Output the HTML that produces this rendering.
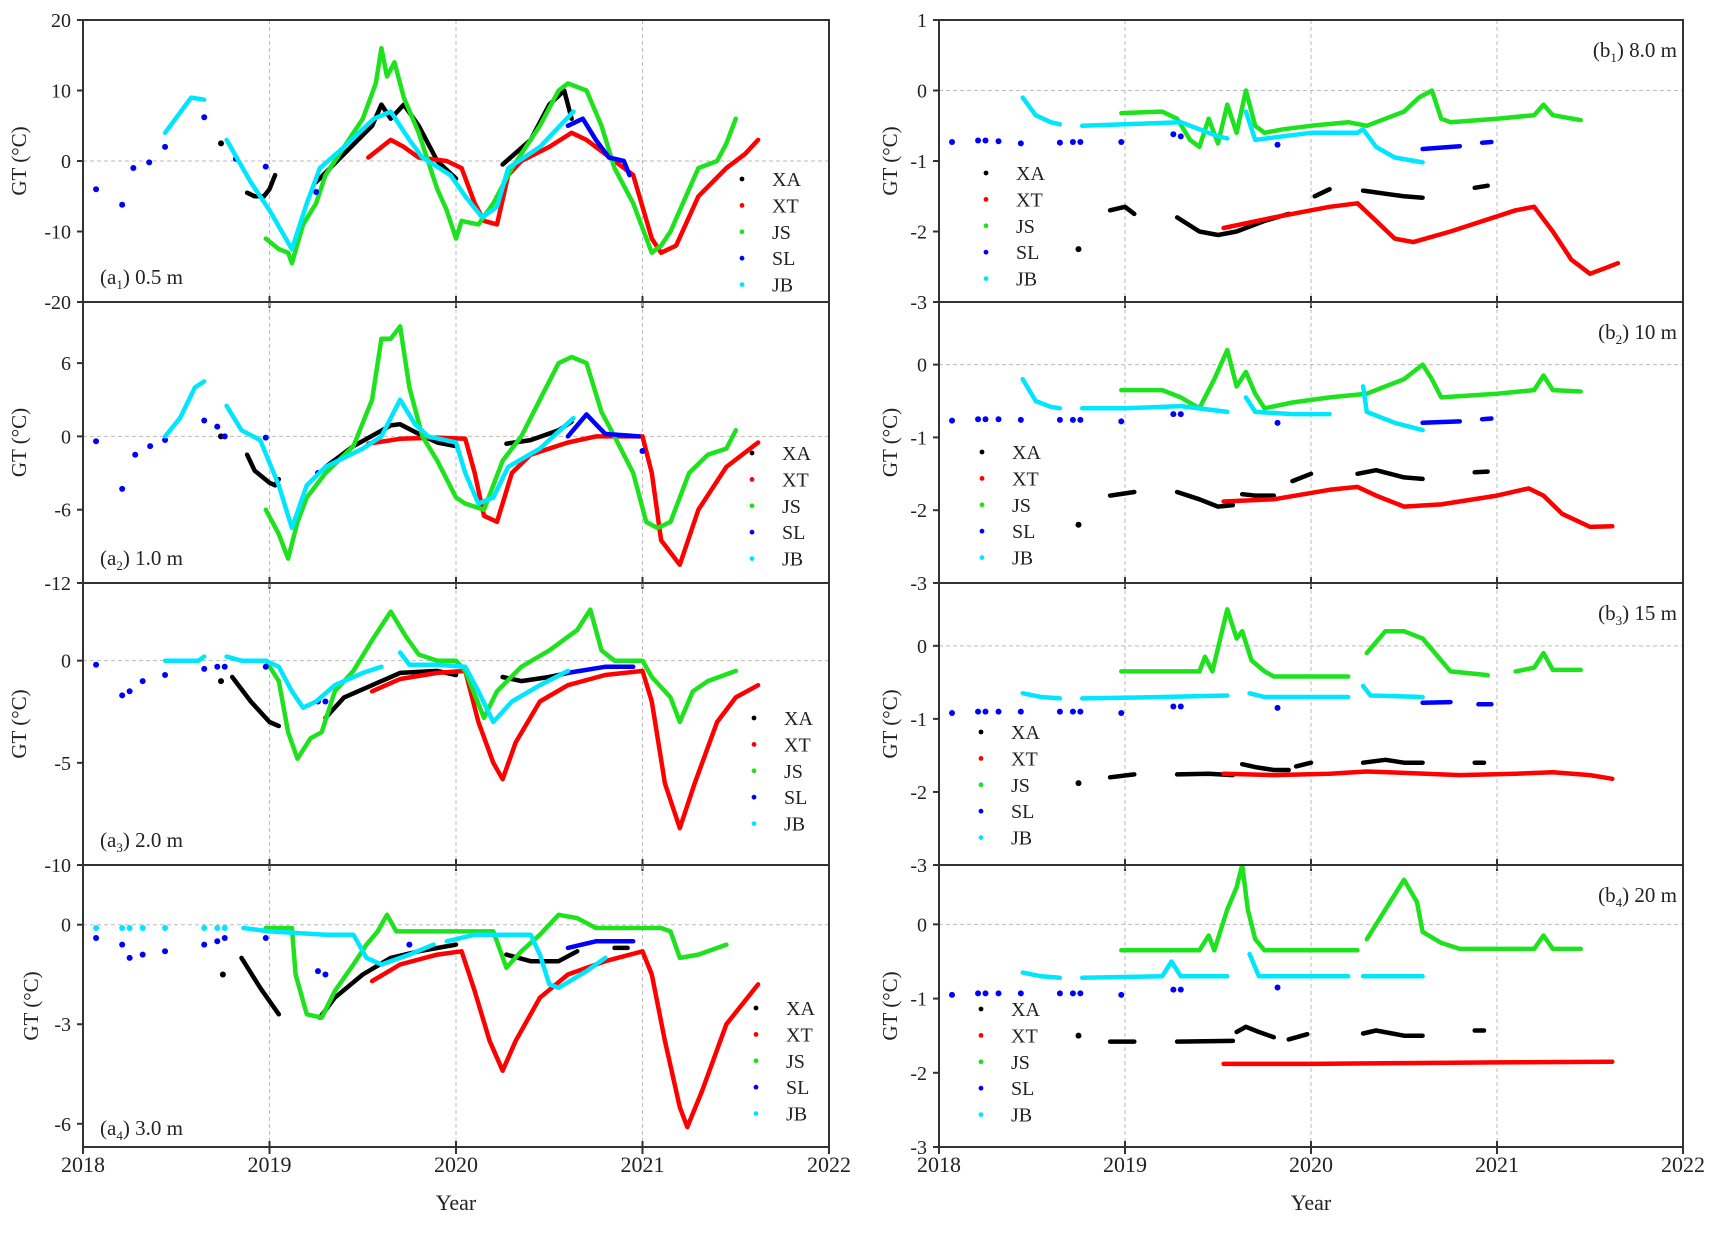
<!DOCTYPE html>
<html><head><meta charset="utf-8"><title>Ground temperature time series</title>
<style>
html,body{margin:0;padding:0;background:#fff;}
svg{display:block;font-family:"Liberation Serif",serif;}
</style></head>
<body>
<svg id="chart" xmlns="http://www.w3.org/2000/svg" width="1729" height="1240" viewBox="0 0 1729 1240">
<rect x="0" y="0" width="1729" height="1240" fill="#fff"/>
<g id="layer"></g>
</svg>
<script>
// x values are years since 2018-01-01; y values are GT (°C). Each series = list of segments; 1-point segment = isolated dot.
const yearTicks = [2018, 2019, 2020, 2021, 2022];
const seriesNames = ["XA", "XT", "JS", "SL", "JB"];

// ---- a1 0.5 m
const a1_XA = [[[0.74,2.5]],[[0.88,-4.5],[0.92,-5],[0.97,-5],[1.0,-4],[1.03,-2]],[[1.25,-3],[1.4,1],[1.55,5],[1.6,8],[1.65,6],[1.72,8],[1.8,5],[1.9,0],[2.0,-2.5]],[[2.25,-0.5],[2.4,3],[2.5,8],[2.58,10],[2.62,6]]];
const a1_XT = [[[1.53,0.5],[1.65,3],[1.72,2],[1.8,0.5],[1.95,0],[2.03,-1],[2.1,-6],[2.15,-8.5],[2.22,-9],[2.28,-2],[2.35,0],[2.5,2],[2.62,4],[2.7,3],[2.8,1],[2.85,0],[2.95,-2],[3.05,-11],[3.1,-13],[3.18,-12],[3.3,-5],[3.45,-1],[3.55,1],[3.62,3]]];
const a1_JS = [[[0.98,-11],[1.05,-12.5],[1.1,-13],[1.12,-14.5],[1.18,-9],[1.25,-6],[1.3,-2],[1.4,2],[1.5,6],[1.57,11],[1.6,16],[1.63,12],[1.67,14],[1.72,9],[1.8,4],[1.9,-4],[1.95,-7],[2.0,-11],[2.03,-8.5],[2.12,-9],[2.2,-6],[2.3,-1],[2.45,5],[2.55,10],[2.6,11],[2.7,10],[2.78,5],[2.85,-1],[2.95,-6],[3.05,-13],[3.1,-12],[3.15,-10],[3.25,-4],[3.3,-1],[3.4,0],[3.45,2.5],[3.5,6]]];
const a1_SL = [[[0.07,-4]],[[0.21,-6.2]],[[0.27,-1]],[[0.355,-0.2]],[[0.44,2]],[[0.65,6.2]],[[0.82,0.3]],[[0.98,-0.8]],[[1.25,-4.4]],[[2.6,5],[2.68,6],[2.75,3],[2.82,0.5],[2.9,0],[2.93,-2]]];
const a1_JB = [[[0.44,4],[0.58,9],[0.65,8.7]],[[0.77,3],[0.9,-3],[1.0,-7],[1.12,-12.5],[1.2,-6],[1.27,-1],[1.4,2],[1.56,6],[1.65,7],[1.75,3],[1.82,0.5],[1.97,-2],[2.05,-5],[2.14,-8],[2.22,-6.5],[2.28,-1],[2.45,2],[2.63,7]]];

// ---- a2 1.0 m
const a2_XA = [[[0.74,0]],[[0.88,-1.5],[0.92,-2.8],[1.0,-3.8],[1.03,-4],[1.05,-3.5]],[[1.3,-2.5],[1.45,-0.8],[1.58,0.3],[1.65,0.9],[1.7,1],[1.8,0.2],[1.9,-0.5],[2.0,-0.8]],[[2.27,-0.6],[2.4,-0.3],[2.55,0.5],[2.62,1.2]]];
const a2_XT = [[[1.53,-0.6],[1.7,-0.2],[1.9,-0.1],[2.05,-0.2],[2.1,-3],[2.15,-6.5],[2.22,-7],[2.3,-3],[2.4,-1.5],[2.6,-0.5],[2.75,0],[3.0,0],[3.05,-3],[3.1,-8.5],[3.2,-10.5],[3.3,-6],[3.45,-2.5],[3.62,-0.5]]];
const a2_JS = [[[0.98,-6],[1.05,-8],[1.1,-10],[1.15,-7],[1.2,-5],[1.3,-3],[1.45,-0.8],[1.55,3],[1.6,8],[1.65,8],[1.7,9],[1.75,4],[1.82,0],[1.9,-2],[2.0,-5],[2.05,-5.5],[2.15,-6],[2.25,-2],[2.35,0],[2.45,3],[2.55,6],[2.62,6.5],[2.7,6],[2.78,2],[2.85,0],[2.95,-3],[3.02,-7],[3.08,-7.5],[3.15,-7],[3.25,-3],[3.35,-1.5],[3.45,-1],[3.5,0.5]]];
const a2_SL = [[[0.07,-0.4]],[[0.21,-4.3]],[[0.28,-1.5]],[[0.36,-0.8]],[[0.44,-0.3]],[[0.65,1.3]],[[0.72,0.8]],[[0.76,0]],[[0.98,-0.1]],[[1.26,-3]],[[2.6,0],[2.7,1.8],[2.8,0.2],[2.98,0]],[[3.0,-1.2]]];
const a2_JB = [[[0.44,0],[0.52,1.5],[0.6,4],[0.65,4.5]],[[0.77,2.5],[0.85,0.5],[0.95,-0.3],[1.05,-4],[1.12,-7.5],[1.2,-4],[1.3,-2.5],[1.5,-1],[1.6,0],[1.7,3],[1.78,1],[1.85,0],[2.0,-0.5],[2.05,-3],[2.12,-5.5],[2.2,-5],[2.28,-2.5],[2.45,-1],[2.63,1.5]]];

// ---- a3 2.0 m
const a3_XA = [[[0.74,-1]],[[0.8,-0.8],[0.9,-2],[1.0,-3],[1.05,-3.2]],[[1.3,-2.8],[1.4,-1.8],[1.55,-1.2],[1.7,-0.6],[1.9,-0.5],[2.0,-0.7]],[[2.25,-0.8],[2.35,-1],[2.5,-0.8],[2.6,-0.6]]];
const a3_XT = [[[1.55,-1.5],[1.7,-0.9],[1.9,-0.6],[2.05,-0.5],[2.12,-3],[2.2,-5],[2.25,-5.8],[2.32,-4],[2.45,-2],[2.6,-1.2],[2.8,-0.7],[3.0,-0.5],[3.05,-2],[3.12,-6],[3.2,-8.2],[3.28,-6],[3.4,-3],[3.5,-1.8],[3.62,-1.2]]];
const a3_JS = [[[0.98,0],[1.05,-1],[1.1,-3.5],[1.15,-4.8],[1.22,-3.8],[1.28,-3.5],[1.35,-1.5],[1.45,-0.5],[1.55,1],[1.65,2.4],[1.73,1.2],[1.8,0.3],[1.9,0],[2.0,0],[2.05,-0.5],[2.15,-2.8],[2.22,-1.5],[2.35,-0.3],[2.5,0.5],[2.65,1.5],[2.72,2.5],[2.78,0.5],[2.85,0],[3.0,0],[3.05,-0.8],[3.15,-1.8],[3.2,-3],[3.27,-1.5],[3.35,-1],[3.5,-0.5]]];
const a3_SL = [[[0.07,-0.2]],[[0.21,-1.7]],[[0.25,-1.5]],[[0.32,-1.0]],[[0.44,-0.7]],[[0.65,-0.4]],[[0.72,-0.3]],[[0.76,-0.3]],[[0.98,-0.3]],[[1.26,-2]],[[1.3,-2]],[[2.6,-0.6],[2.8,-0.3],[2.95,-0.3]]];
const a3_JB = [[[0.44,0],[0.55,0],[0.62,0],[0.65,0.2]],[[0.77,0.2],[0.85,0],[0.98,0],[1.05,-0.3],[1.12,-1.5],[1.18,-2.3],[1.25,-2],[1.35,-1.2],[1.5,-0.6],[1.6,-0.3]],[[1.7,0.4],[1.75,-0.2],[1.9,-0.2],[2.05,-0.3],[2.12,-1.5],[2.2,-3],[2.3,-2],[2.45,-1.2],[2.6,-0.5]]];

// ---- a4 3.0 m
const a4_XA = [[[0.75,-1.5]],[[0.85,-1],[0.95,-1.9],[1.05,-2.7]],[[1.27,-2.8],[1.35,-2.2],[1.5,-1.5],[1.65,-1.0],[1.8,-0.8],[2.0,-0.6]],[[2.27,-0.9],[2.4,-1.1],[2.55,-1.1],[2.65,-0.8]],[[2.85,-0.7],[2.92,-0.7]]];
const a4_XT = [[[1.55,-1.7],[1.7,-1.2],[1.9,-0.9],[2.03,-0.8],[2.1,-2],[2.18,-3.5],[2.25,-4.4],[2.32,-3.5],[2.45,-2.2],[2.6,-1.5],[2.8,-1.1],[3.0,-0.8],[3.05,-1.5],[3.12,-3.5],[3.2,-5.5],[3.24,-6.1],[3.32,-5],[3.45,-3],[3.62,-1.8]]];
const a4_JS = [[[0.98,-0.1],[1.12,-0.1],[1.14,-1.5],[1.2,-2.7],[1.28,-2.8],[1.35,-2],[1.45,-1.2],[1.52,-0.6],[1.58,-0.2],[1.63,0.3],[1.68,-0.2],[1.75,-0.2],[1.9,-0.2],[2.2,-0.2],[2.27,-1.3],[2.35,-0.8],[2.45,-0.3],[2.55,0.3],[2.65,0.2],[2.75,-0.1],[3.1,-0.1],[3.15,-0.2],[3.2,-1],[3.3,-0.9],[3.45,-0.6]]];
const a4_SL = [[[0.07,-0.4]],[[0.21,-0.6]],[[0.25,-1.0]],[[0.32,-0.9]],[[0.44,-0.8]],[[0.65,-0.6]],[[0.72,-0.5]],[[0.76,-0.4]],[[0.98,-0.4]],[[1.26,-1.4]],[[1.3,-1.5]],[[1.75,-0.6]],[[2.6,-0.7],[2.75,-0.5],[2.95,-0.5]]];
const a4_JB = [[[0.07,-0.1]],[[0.21,-0.1]],[[0.25,-0.1]],[[0.32,-0.1]],[[0.44,-0.1]],[[0.65,-0.1]],[[0.72,-0.1]],[[0.76,-0.1]],[[0.86,-0.1],[1.0,-0.2],[1.3,-0.3],[1.45,-0.3],[1.52,-1],[1.6,-1.2],[1.75,-0.9],[1.88,-0.6]],[[1.95,-0.5],[2.1,-0.3],[2.4,-0.3],[2.45,-0.9],[2.5,-1.8],[2.55,-1.9],[2.7,-1.4],[2.8,-1.0]]];

// ---- b1 8.0 m
const b1_XA = [[[0.75,-2.25]],[[0.92,-1.7],[1.0,-1.65],[1.05,-1.75]],[[1.28,-1.8],[1.4,-2.0],[1.5,-2.05],[1.6,-2.0],[1.75,-1.85],[1.88,-1.75]],[[2.02,-1.5],[2.1,-1.4]],[[2.28,-1.42],[2.5,-1.5],[2.6,-1.52]],[[2.88,-1.38],[2.95,-1.35]]];
const b1_XT = [[[1.53,-1.95],[1.8,-1.8],[2.1,-1.65],[2.25,-1.6],[2.35,-1.85],[2.45,-2.1],[2.55,-2.15],[2.75,-2.0],[3.1,-1.7],[3.2,-1.65],[3.3,-2.0],[3.4,-2.4],[3.5,-2.6],[3.6,-2.5],[3.65,-2.45]]];
const b1_JS = [[[0.98,-0.32],[1.2,-0.3],[1.28,-0.4],[1.35,-0.7],[1.4,-0.8],[1.45,-0.4],[1.5,-0.75],[1.55,-0.2],[1.6,-0.6],[1.65,0],[1.7,-0.5],[1.75,-0.6],[1.85,-0.55],[2.0,-0.5],[2.2,-0.45],[2.3,-0.5],[2.4,-0.4],[2.5,-0.3],[2.58,-0.1],[2.65,0],[2.7,-0.4],[2.75,-0.45],[3.0,-0.4],[3.2,-0.35],[3.25,-0.2],[3.3,-0.35],[3.45,-0.42]]];
const b1_SL = [[[0.07,-0.73]],[[0.21,-0.71]],[[0.25,-0.71]],[[0.32,-0.72]],[[0.44,-0.75]],[[0.65,-0.74]],[[0.72,-0.73]],[[0.76,-0.73]],[[0.98,-0.73]],[[1.26,-0.62]],[[1.3,-0.65]],[[1.82,-0.77]],[[2.6,-0.83],[2.8,-0.79]],[[2.92,-0.74],[2.97,-0.73]]];
const b1_JB = [[[0.45,-0.1],[0.52,-0.35],[0.6,-0.45],[0.65,-0.48]],[[0.77,-0.5],[1.0,-0.48],[1.3,-0.45],[1.5,-0.65],[1.55,-0.68]],[[1.65,-0.3],[1.7,-0.7],[1.85,-0.65],[2.0,-0.6],[2.25,-0.6],[2.28,-0.55],[2.35,-0.8],[2.45,-0.95],[2.6,-1.02]]];

// ---- b2 10 m
const b2_XA = [[[0.75,-2.2]],[[0.92,-1.8],[1.05,-1.75]],[[1.28,-1.75],[1.4,-1.85],[1.5,-1.95],[1.58,-1.93]],[[1.63,-1.78],[1.7,-1.8],[1.8,-1.8]],[[1.9,-1.6],[2.0,-1.5]],[[2.25,-1.5],[2.35,-1.45],[2.5,-1.55],[2.6,-1.57]],[[2.88,-1.48],[2.95,-1.47]]];
const b2_XT = [[[1.53,-1.88],[1.8,-1.85],[2.1,-1.72],[2.25,-1.68],[2.35,-1.8],[2.5,-1.95],[2.7,-1.92],[3.0,-1.8],[3.17,-1.7],[3.25,-1.8],[3.35,-2.05],[3.5,-2.23],[3.62,-2.22]]];
const b2_JS = [[[0.98,-0.35],[1.2,-0.35],[1.3,-0.45],[1.4,-0.6],[1.48,-0.2],[1.55,0.2],[1.6,-0.3],[1.65,-0.1],[1.7,-0.4],[1.75,-0.6],[1.9,-0.52],[2.1,-0.45],[2.3,-0.4],[2.4,-0.3],[2.5,-0.2],[2.6,0],[2.65,-0.2],[2.7,-0.45],[3.0,-0.4],[3.2,-0.35],[3.25,-0.15],[3.3,-0.35],[3.45,-0.37]]];
const b2_SL = [[[0.07,-0.77]],[[0.21,-0.75]],[[0.25,-0.75]],[[0.32,-0.75]],[[0.44,-0.76]],[[0.65,-0.76]],[[0.72,-0.76]],[[0.76,-0.76]],[[0.98,-0.78]],[[1.26,-0.68]],[[1.3,-0.68]],[[1.82,-0.8]],[[2.6,-0.8],[2.8,-0.78]],[[2.92,-0.75],[2.97,-0.74]]];
const b2_JB = [[[0.45,-0.2],[0.52,-0.5],[0.6,-0.58],[0.65,-0.6]],[[0.77,-0.6],[1.0,-0.6],[1.3,-0.57],[1.55,-0.65]],[[1.65,-0.45],[1.7,-0.65],[1.9,-0.68],[2.1,-0.68]],[[2.28,-0.3],[2.3,-0.65],[2.45,-0.8],[2.6,-0.9]]];

// ---- b3 15 m
const b3_XA = [[[0.75,-1.88]],[[0.92,-1.8],[1.05,-1.76]],[[1.28,-1.76],[1.45,-1.75],[1.58,-1.77]],[[1.63,-1.62],[1.7,-1.66],[1.8,-1.7],[1.88,-1.7]],[[1.92,-1.65],[2.0,-1.6]],[[2.28,-1.6],[2.4,-1.56],[2.5,-1.6],[2.6,-1.6]],[[2.88,-1.6],[2.93,-1.6]]];
const b3_XT = [[[1.53,-1.75],[1.8,-1.77],[2.1,-1.75],[2.3,-1.72],[2.5,-1.74],[2.8,-1.77],[3.1,-1.75],[3.3,-1.73],[3.5,-1.77],[3.62,-1.82]]];
const b3_JS = [[[0.98,-0.35],[1.4,-0.35],[1.43,-0.15],[1.47,-0.35],[1.55,0.5],[1.6,0.1],[1.63,0.2],[1.68,-0.2],[1.75,-0.35],[1.8,-0.42],[2.2,-0.42]],[[2.3,-0.1],[2.4,0.2],[2.5,0.2],[2.6,0.1],[2.7,-0.2],[2.75,-0.35],[2.95,-0.4]],[[3.1,-0.35],[3.2,-0.3],[3.25,-0.1],[3.3,-0.33],[3.45,-0.33]]];
const b3_SL = [[[0.07,-0.92]],[[0.21,-0.9]],[[0.25,-0.9]],[[0.32,-0.9]],[[0.44,-0.9]],[[0.65,-0.9]],[[0.72,-0.9]],[[0.76,-0.9]],[[0.98,-0.92]],[[1.26,-0.83]],[[1.3,-0.83]],[[1.82,-0.85]],[[2.6,-0.78],[2.75,-0.77]],[[2.9,-0.8],[2.97,-0.8]]];
const b3_JB = [[[0.45,-0.65],[0.55,-0.7],[0.65,-0.72]],[[0.77,-0.72],[1.2,-0.7],[1.55,-0.68]],[[1.67,-0.65],[1.75,-0.7],[2.2,-0.7]],[[2.28,-0.55],[2.32,-0.68],[2.6,-0.7]]];

// ---- b4 20 m
const b4_XA = [[[0.75,-1.5]],[[0.92,-1.58],[1.05,-1.58]],[[1.28,-1.58],[1.58,-1.57]],[[1.6,-1.45],[1.65,-1.38],[1.72,-1.45],[1.8,-1.52]],[[1.88,-1.55],[1.98,-1.48]],[[2.28,-1.47],[2.35,-1.43],[2.5,-1.5],[2.6,-1.5]],[[2.88,-1.43],[2.93,-1.43]]];
const b4_XT = [[[1.53,-1.88],[2.0,-1.88],[2.5,-1.87],[3.0,-1.86],[3.62,-1.85]]];
const b4_JS = [[[0.98,-0.35],[1.4,-0.35],[1.45,-0.15],[1.48,-0.35],[1.55,0.2],[1.6,0.5],[1.63,0.8],[1.66,0.2],[1.7,-0.2],[1.75,-0.35],[2.25,-0.35]],[[2.3,-0.2],[2.4,0.2],[2.5,0.6],[2.57,0.3],[2.6,-0.1],[2.7,-0.25],[2.8,-0.33],[3.2,-0.33],[3.25,-0.15],[3.3,-0.33],[3.45,-0.33]]];
const b4_SL = [[[0.07,-0.95]],[[0.21,-0.93]],[[0.25,-0.93]],[[0.32,-0.93]],[[0.44,-0.93]],[[0.65,-0.93]],[[0.72,-0.93]],[[0.76,-0.93]],[[0.98,-0.95]],[[1.26,-0.88]],[[1.3,-0.88]],[[1.82,-0.85]]];
const b4_JB = [[[0.45,-0.65],[0.55,-0.7],[0.65,-0.72]],[[0.77,-0.72],[1.2,-0.7],[1.25,-0.5],[1.3,-0.7],[1.55,-0.7]],[[1.67,-0.4],[1.72,-0.7],[2.2,-0.7]],[[2.28,-0.7],[2.6,-0.7]]];

const a1_ticks = [-20,-10,0,10,20];
const a2_ticks = [-12,-6,0,6];
const a3_ticks = [-10,-5,0];
const a4_ticks = [-6,-3,0];
const b1_ticks = [-3,-2,-1,0,1];
const b_ticks = [-3,-2,-1,0];

const colors = {XA:"#000000", XT:"#ff0000", JS:"#1ee21e", SL:"#0000ff", JB:"#00e6ff"};
const NS = "http://www.w3.org/2000/svg";
const layer = document.getElementById("layer");
function mk(tag, attrs, parent){ const e=document.createElementNS(NS,tag); for(const k in attrs) e.setAttribute(k,attrs[k]); (parent||layer).appendChild(e); return e; }

const tops=[20,302,583,865], bot=1147;
const panels = [
 {id:"a1",col:0,row:0,min:-20,max:20,ticks:a1_ticks,data:[a1_XA,a1_XT,a1_JS,a1_SL,a1_JB],lab:["a","1"," 0.5 m"],leg:[742,179]},
 {id:"a2",col:0,row:1,min:-12,max:11,ticks:a2_ticks,data:[a2_XA,a2_XT,a2_JS,a2_SL,a2_JB],lab:["a","2"," 1.0 m"],leg:[752,453]},
 {id:"a3",col:0,row:2,min:-10,max:3.8,ticks:a3_ticks,data:[a3_XA,a3_XT,a3_JS,a3_SL,a3_JB],lab:["a","3"," 2.0 m"],leg:[754,718]},
 {id:"a4",col:0,row:3,min:-6.7,max:1.8,ticks:a4_ticks,data:[a4_XA,a4_XT,a4_JS,a4_SL,a4_JB],lab:["a","4"," 3.0 m"],leg:[756,1008]},
 {id:"b1",col:1,row:0,min:-3,max:1,ticks:b1_ticks,data:[b1_XA,b1_XT,b1_JS,b1_SL,b1_JB],lab:["b","1"," 8.0 m"],leg:[986,173]},
 {id:"b2",col:1,row:1,min:-3,max:0.86,ticks:b_ticks,data:[b2_XA,b2_XT,b2_JS,b2_SL,b2_JB],lab:["b","2"," 10 m"],leg:[982,452]},
 {id:"b3",col:1,row:2,min:-3,max:0.86,ticks:b_ticks,data:[b3_XA,b3_XT,b3_JS,b3_SL,b3_JB],lab:["b","3"," 15 m"],leg:[981,732]},
 {id:"b4",col:1,row:3,min:-3,max:0.8,ticks:b_ticks,data:[b4_XA,b4_XT,b4_JS,b4_SL,b4_JB],lab:["b","4"," 20 m"],leg:[981,1009]}
];
const colX=[[83,829],[939,1683]];

panels.forEach(p=>{
  const x0=colX[p.col][0], x1=colX[p.col][1];
  const y0=tops[p.row], y1=p.row<3?tops[p.row+1]:bot;
  const xs=t=>x0+(t)/4*(x1-x0);
  const ys=v=>y1-(v-p.min)/(p.max-p.min)*(y1-y0);
  const g=mk("g",{});
  
  
  [1,2,3].forEach(k=>{ const l=mk("line",{x1:xs(k),x2:xs(k),y1:y0,y2:y1,stroke:"#bbb","stroke-width":1,"stroke-dasharray":"4,3"},g);
      });
  const zl=mk("line",{x1:x0,x2:x1,y1:ys(0),y2:ys(0),stroke:"#bbb","stroke-width":1,"stroke-dasharray":"4,3"},g);
   
  const clip=mk("clipPath",{id:"clip"+p.id},g); mk("rect",{x:x0,y:y0,width:x1-x0,height:y1-y0},clip);
  const sg=mk("g",{"clip-path":"url(#clip"+p.id+")"},g);
  p.data.forEach((ser,si)=>{
    const nm=seriesNames[si], c=colors[nm];
    const gg=mk("g",{},sg);
    
    
    ser.forEach(seg=>{
      if(seg.length===1){
        const d=mk("circle",{cx:xs(seg[0][0]),cy:ys(seg[0][1]),r:3,fill:c},gg);
        
        
      } else {
        const pl=mk("polyline",{points:seg.map(q=>xs(q[0]).toFixed(1)+","+ys(q[1]).toFixed(1)).join(" "),fill:"none",stroke:c,"stroke-width":4.5,"stroke-linecap":"round","stroke-linejoin":"round"},gg);
        
        
      }
    });
  });
  const fr=mk("rect",{x:x0,y:y0,width:x1-x0,height:y1-y0,fill:"none",stroke:"#333","stroke-width":2},g);
   
  const tx = x0-12;
  p.ticks.forEach(v=>{
    mk("line",{x1:x0-6,x2:x0,y1:ys(v),y2:ys(v),stroke:"#333","stroke-width":2},g);
    const t=mk("text",{x:tx,y:ys(v)+7,"text-anchor":"end","font-size":20,fill:"#222"},g);
    t.textContent=v;
     
  });
  [1,2,3].forEach(k=>mk("line",{x1:xs(k),x2:xs(k),y1:y1-6,y2:y1+6,stroke:"#333","stroke-width":2},g));
  const yc=(y0+y1)/2, yx = p.col===0 ? (p.row===3?33:21) : 892;
  const yt=mk("text",{x:yx,y:yc,"text-anchor":"middle","font-size":21,fill:"#222",transform:"rotate(-90 "+yx+" "+yc+")","dominant-baseline":"middle"},g);
  yt.textContent="GT (°C)";
   
  let lt;
  if(p.col===0) lt=mk("text",{x:100,y:y1-(p.row===3?12:18),"font-size":21,fill:"#222"},g);
  else lt=mk("text",{x:1677,y:y0+37,"font-size":21,fill:"#222","text-anchor":"end"},g);
   
  const s1=mk("tspan",{},lt); s1.textContent="("+p.lab[0];
  const s2=mk("tspan",{"font-size":13,dy:5},lt); s2.textContent=p.lab[1];
  const s3=mk("tspan",{dy:-5},lt); s3.textContent=")"+p.lab[2];
  const lg=mk("g",{},g);
   
  seriesNames.forEach((nm,i)=>{
    const ly=p.leg[1]+i*26.4;
    const m=mk("circle",{cx:p.leg[0],cy:ly,r:2.4,fill:colors[nm]},lg);
     
    const t=mk("text",{x:p.leg[0]+30,y:ly+7,"font-size":20,fill:"#222"},lg);
    t.textContent=nm;
     
  });
});

colX.forEach((cx,ci)=>{
  yearTicks.forEach((yr,k)=>{
    const x=cx[0]+k/4*(cx[1]-cx[0]);
    mk("line",{x1:x,x2:x,y1:bot,y2:bot+7,stroke:"#333","stroke-width":2});
    const t=mk("text",{x:x,y:bot+25,"text-anchor":"middle","font-size":22,fill:"#222"});
    t.textContent=yr;
     
  });
  const xt=mk("text",{x:(cx[0]+cx[1])/2,y:1210,"text-anchor":"middle","font-size":22,fill:"#222"});
  xt.textContent="Year";
   
});
</script>
</body></html>
